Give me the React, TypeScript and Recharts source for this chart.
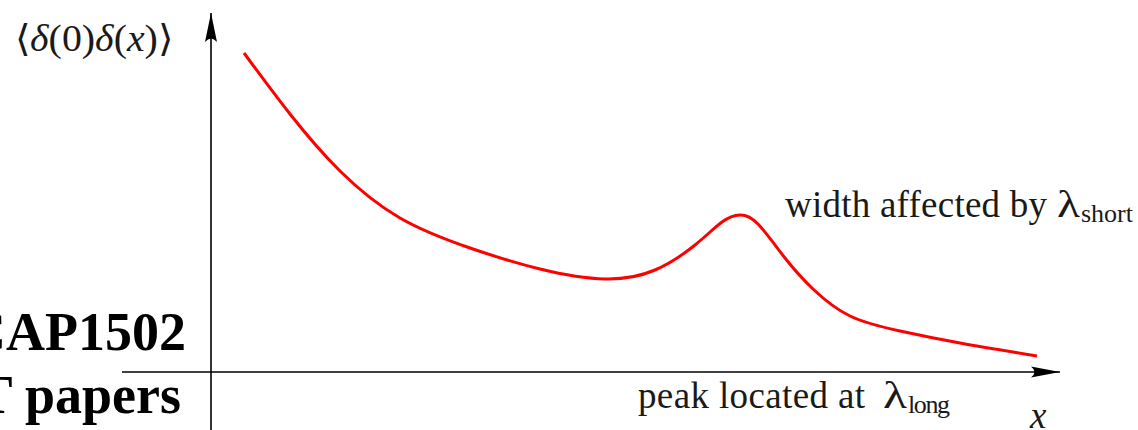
import React from 'react';
import { LineChart, Line, XAxis, YAxis, ReferenceLine, ReferenceDot, Customized } from 'recharts';

// Schematic correlation function (arbitrary units: axis origin at 0,0)
const xs = [0.33, 0.79, 1.29, 1.89, 2.59, 3.29, 3.94, 4.44, 4.84, 5.11, 5.29, 5.47, 5.74, 6.02, 6.39, 6.89, 7.49, 8.26];
const ys = [3.19, 2.58, 2.01, 1.54, 1.24, 1.03, 0.93, 1.02, 1.27, 1.50, 1.57, 1.48, 1.14, 0.83, 0.56, 0.41, 0.29, 0.16];

const xDomain: [number, number] = [-0.89, 8.49];
const yDomain: [number, number] = [-0.58, 3.59];

const data = xs.map((x, i) => ({ x, y: ys[i] }));

const serif = 'Liberation Serif';
const textColor = '#1a1a1a';

const RightArrow = (props: any) => {
  const { cx, cy } = props;
  if (cx == null || cy == null) return null;
  return (
    <path
      d={`M ${cx} ${cy} L ${cx - 29} ${cy - 5.5} Q ${cx - 22} ${cy} ${cx - 29} ${cy + 5.5} Z`}
      fill="#000"
    />
  );
};

const UpArrow = (props: any) => {
  const { cx, cy } = props;
  if (cx == null || cy == null) return null;
  return (
    <path
      d={`M ${cx} ${cy} L ${cx - 6} ${cy + 29} Q ${cx} ${cy + 22} ${cx + 6} ${cy + 29} Z`}
      fill="#000"
    />
  );
};

const Annotations = () => (
  <g fontFamily={serif}>
    <text x={15} y={51} fontFamily={serif} fontSize={37} fill={textColor} textLength={158} lengthAdjust="spacingAndGlyphs">
      {'⟨'}<tspan fontStyle="italic">δ</tspan>(0)<tspan fontStyle="italic">δ</tspan>(<tspan fontStyle="italic">x</tspan>){'⟩'}
    </text>
    <text x={785} y={217} fontFamily={serif} fontSize={37} fill={textColor} textLength={262} lengthAdjust="spacing">
      width affected by
    </text>
    <text x={1057} y={217} fontFamily={serif} fontSize={37} fill={textColor} textLength={23} lengthAdjust="spacingAndGlyphs">λ</text>
    <text x={1081} y={222} fontFamily={serif} fontSize={26} fill={textColor} textLength={52} lengthAdjust="spacing">short</text>
    <text x={638} y={408} fontFamily={serif} fontSize={37} fill={textColor} textLength={227} lengthAdjust="spacing">
      peak located at
    </text>
    <text x={883} y={408} fontFamily={serif} fontSize={37} fill={textColor} textLength={24} lengthAdjust="spacingAndGlyphs">λ</text>
    <text x={908} y={413} fontFamily={serif} fontSize={26} fill={textColor} textLength={42} lengthAdjust="spacing">long</text>
    <text x={1030} y={428} fontFamily={serif} fontSize={37} fontStyle="italic" fill={textColor}>x</text>
    <text x={186} y={350} fontFamily={serif} fontSize={54} fontWeight="bold" fill="#000" textAnchor="end">CAP1502</text>
    <text x={181} y={413} fontFamily={serif} fontSize={54} fontWeight="bold" fill="#000" textAnchor="end">T papers</text>
  </g>
);

export default function App() {
  return (
    <div style={{ position: 'absolute', left: 0, top: 0, width: 1138, height: 430, background: '#fff' }}>
      <LineChart width={1138} height={430} data={data} margin={{ top: 13, right: 78, bottom: 0, left: 122 }}>
        <XAxis type="number" dataKey="x" domain={xDomain} hide allowDataOverflow />
        <YAxis type="number" dataKey="y" domain={yDomain} hide allowDataOverflow />
        <ReferenceLine x={0} stroke="#000" strokeWidth={1.6} ifOverflow="visible" />
        <ReferenceLine y={0} stroke="#000" strokeWidth={1.6} ifOverflow="visible" />
        <ReferenceDot x={xDomain[1]} y={0} r={1} ifOverflow="visible" shape={RightArrow} />
        <ReferenceDot x={0} y={yDomain[1]} r={1} ifOverflow="visible" shape={UpArrow} />
        <Line
          type="natural"
          dataKey="y"
          stroke="#ff0000"
          strokeWidth={3}
          dot={false}
          activeDot={false}
          isAnimationActive={false}
        />
        <Customized component={<Annotations />} />
      </LineChart>
    </div>
  );
}
